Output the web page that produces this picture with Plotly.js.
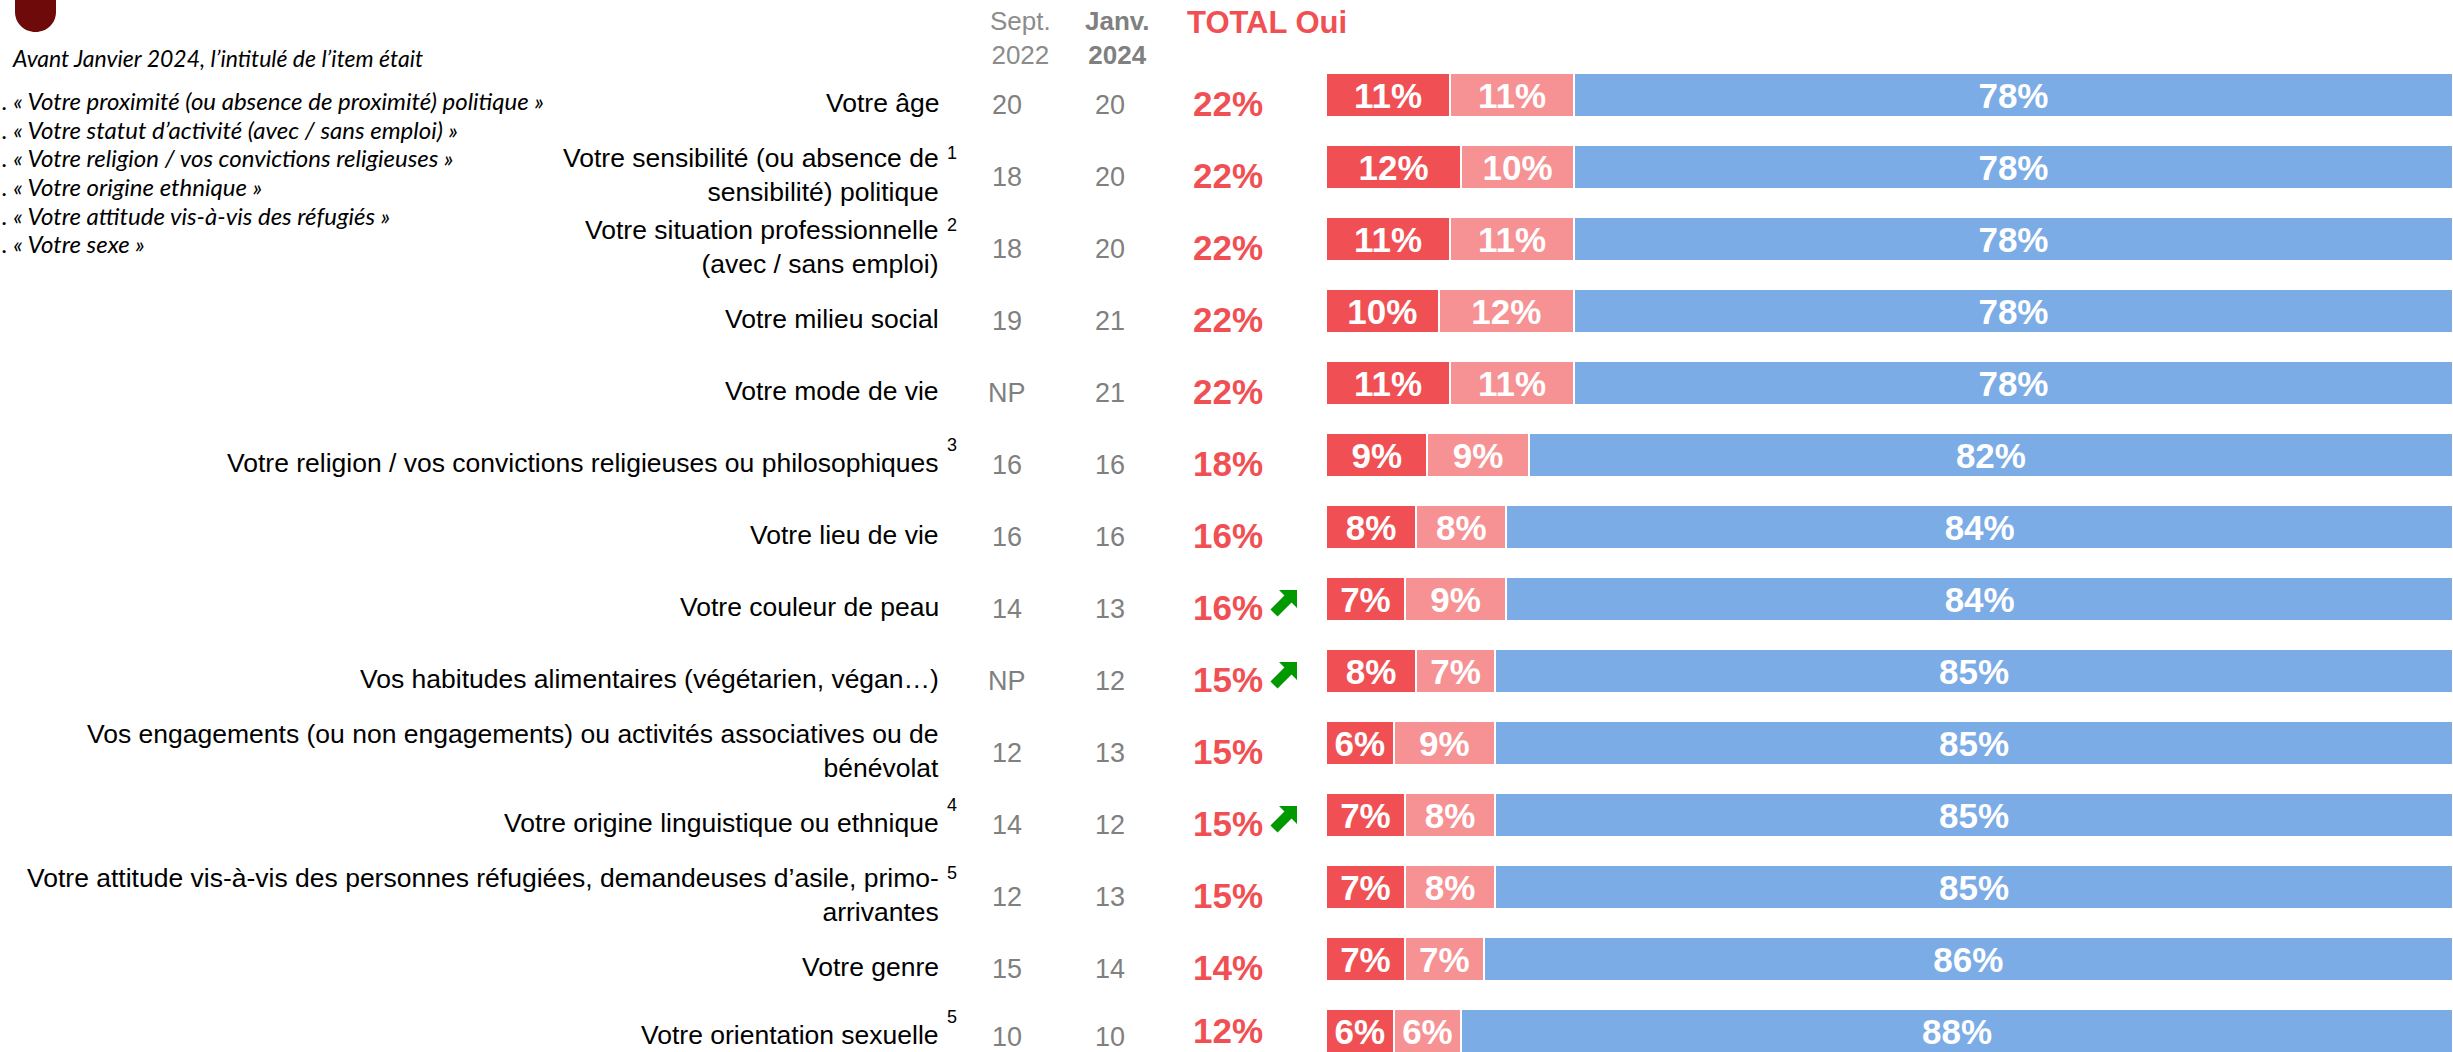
<!DOCTYPE html>
<html>
<head>
<meta charset="utf-8">
<script src="https://cdn.plot.ly/plotly-3.0.1.min.js"></script>
<style>html,body{margin:0;padding:0;background:#fff;}#chart{width:2453px;height:1052px;}</style>
</head>
<body>
<div id="chart"></div>
<script>
// ---------- data ----------
const items = [
  "Votre âge",
  "Votre sensibilité (ou absence de<br>sensibilité) politique",
  "Votre situation professionnelle<br>(avec / sans emploi)",
  "Votre milieu social",
  "Votre mode de vie",
  "Votre religion / vos convictions religieuses ou philosophiques",
  "Votre lieu de vie",
  "Votre couleur de peau",
  "Vos habitudes alimentaires (végétarien, végan…)",
  "Vos engagements (ou non engagements) ou activités associatives ou de<br>bénévolat",
  "Votre origine linguistique ou ethnique",
  "Votre attitude vis-à-vis des personnes réfugiées, demandeuses d’asile, primo-<br>arrivantes",
  "Votre genre",
  "Votre orientation sexuelle"
];
const notes = ["", "1", "2", "", "", "3", "", "", "", "", "4", "5", "", "5"];
const sept2022 = ["20", "18", "18", "19", "NP", "16", "16", "14", "NP", "12", "14", "12", "15", "10"];
const janv2024 = ["20", "20", "20", "21", "21", "16", "16", "13", "12", "13", "12", "13", "14", "10"];
const totalOui = [22, 22, 22, 22, 22, 18, 16, 16, 15, 15, 15, 15, 14, 12];
const ouiSouvent = [11, 12, 11, 10, 11, 9, 8, 7, 8, 6, 7, 7, 7, 6];
const ouiRarement = [11, 10, 11, 12, 11, 9, 8, 9, 7, 9, 8, 8, 7, 6];
const non = [78, 78, 78, 78, 78, 82, 84, 84, 85, 85, 85, 85, 86, 88];
const hausse = [0, 0, 0, 0, 0, 0, 0, 1, 1, 0, 1, 0, 0, 0];
const noteTitle = "Avant Janvier 2024, l’intitulé de l’item était";
// numbering of these lines is cut off at the left edge in the original
const previousWording = [
  ". « Votre proximité (ou absence de proximité) politique »",
  ". « Votre statut d’activité (avec / sans emploi) »",
  ". « Votre religion / vos convictions religieuses »",
  ". « Votre origine ethnique »",
  ". « Votre attitude vis-à-vis des réfugiés »",
  ". « Votre sexe »"
];
const colHeaders = ["Sept.<br>2022", "<b>Janv.<br>2024</b>", "<b>TOTAL Oui</b>"];

// ---------- layout constants ----------
const W = 2453, H = 1052, L = 1326, T = 59, B = 0;
const PW = W - L, PH = H - T - B;
const F = "Arial, 'Liberation Sans', sans-serif";
const RED = "#F05053", PINK = "#F69294", BLUE = "#7BACE6", GREY = "#808080", GREEN = "#009A00";
const X = px => (px - L) / PW;
const Y = py => 1 - (py - T) / PH;
const unit = 72.0;
const yBottom = PH / unit - 0.5;
const last = items.length - 1;

function barTrace(vals, color) {
  return {
    type: "bar", orientation: "h", y: items, x: vals,
    marker: {color: color, line: {color: "#ffffff", width: 2}},
    texttemplate: "<b>%{x}%</b>", textposition: "inside", insidetextanchor: "middle",
    textangle: 0, constraintext: "none",
    textfont: {family: F, size: 35, color: "#ffffff"},
    hoverinfo: "skip"
  };
}
const data = [barTrace(ouiSouvent, RED), barTrace(ouiRarement, PINK), barTrace(non, BLUE)];

const ann = [];
items.forEach((t, i) => {
  const lines = t.split("<br>").length;
  const s = i === last ? -4 : -8;
  ann.push({xref: "paper", yref: "y", x: X(941), y: i, xanchor: "right", yanchor: "middle",
    yshift: s, align: "right", text: t, showarrow: false,
    font: {family: F, size: 26.5, color: "#000000"}});
  if (notes[i]) {
    ann.push({xref: "paper", yref: "y", x: X(945), y: i, xanchor: "left", yanchor: "middle",
      yshift: lines > 1 ? 14 : s + 18, text: notes[i], showarrow: false,
      font: {family: F, size: 18, color: "#000000"}});
  }
  ann.push({xref: "paper", yref: "y", x: X(1007), y: i, xanchor: "center", yanchor: "middle",
    yshift: s - 2, text: sept2022[i], showarrow: false, font: {family: F, size: 27, color: GREY}});
  ann.push({xref: "paper", yref: "y", x: X(1110), y: i, xanchor: "center", yanchor: "middle",
    yshift: s - 2, text: janv2024[i], showarrow: false, font: {family: F, size: 27, color: GREY}});
  ann.push({xref: "paper", yref: "y", x: X(1192), y: i, xanchor: "left", yanchor: "middle",
    yshift: i === last ? 1 : s, borderpad: 0, text: "<b>" + totalOui[i] + "%</b>", showarrow: false,
    font: {family: F, size: 35, color: RED}});
});
// column headers
ann.push({xref: "paper", yref: "paper", x: X(1020), y: Y(38), xanchor: "center", yanchor: "middle",
  text: colHeaders[0], showarrow: false, font: {family: F, size: 26, color: "#8C8C8C"}});
ann.push({xref: "paper", yref: "paper", x: X(1117), y: Y(38), xanchor: "center", yanchor: "middle",
  text: colHeaders[1], showarrow: false, font: {family: F, size: 26, color: GREY}});
ann.push({xref: "paper", yref: "paper", x: X(1185), y: Y(22), xanchor: "left", yanchor: "middle",
  text: colHeaders[2], showarrow: false, font: {family: F, size: 31, color: RED}});
// previous wording note
const NF = "Lato, 'Open Sans', sans-serif";
ann.push({xref: "paper", yref: "paper", x: X(10), y: Y(58), xanchor: "left", yanchor: "middle",
  text: "<i>" + noteTitle + "</i>", showarrow: false, font: {family: NF, size: 23, color: "#000"}});
previousWording.forEach((t, k) => {
  ann.push({xref: "paper", yref: "paper", x: X(0), y: Y(101 + k * 28.5), xanchor: "left", yanchor: "middle",
    text: "<i>" + t + "</i>", showarrow: false, font: {family: NF, size: 24, color: "#000"}});
});

// shapes: significance arrows + decorative tab
function arrowPath(dy) {
  const p = [[13, 13], [-5, 13], [0.46, 7.54], [-13.54, -6.46], [-6.46, -13.54], [7.54, 0.46], [13, -5]];
  return "M" + p.map(q => q[0] + "," + (q[1] + dy)).join(" L") + " Z";
}
const shapes = [];
hausse.forEach((h, i) => {
  if (h) shapes.push({type: "path", xref: "paper", yref: "y", xsizemode: "pixel", ysizemode: "pixel",
    xanchor: X(1284), yanchor: i, path: arrowPath(-4), fillcolor: GREEN,
    line: {width: 0, color: "rgba(0,0,0,0)"}});
});
shapes.push({type: "path", xref: "paper", yref: "paper", xsizemode: "pixel", ysizemode: "pixel",
  xanchor: X(35.5), yanchor: Y(0),
  path: "M-20.5,4 L-20.5,-12 C-20.5,-23.3 -11.3,-32 0,-32 C11.3,-32 20.5,-23.3 20.5,-12 L20.5,4 Z",
  fillcolor: "#6E0A0A", line: {width: 0, color: "rgba(0,0,0,0)"}});

const layout = {
  width: W, height: H,
  margin: {l: L, r: 0, t: T, b: B, pad: 0},
  paper_bgcolor: "#ffffff", plot_bgcolor: "#ffffff",
  barmode: "stack", bargap: 0.4, showlegend: false,
  xaxis: {range: [0, 100], visible: false, fixedrange: true},
  yaxis: {type: "category", categoryorder: "array", categoryarray: items,
    range: [yBottom, -0.5], visible: false, fixedrange: true},
  annotations: ann, shapes: shapes,
  font: {family: F}
};
Plotly.newPlot("chart", data, layout, {displayModeBar: false, staticPlot: true});
</script>
</body>
</html>
